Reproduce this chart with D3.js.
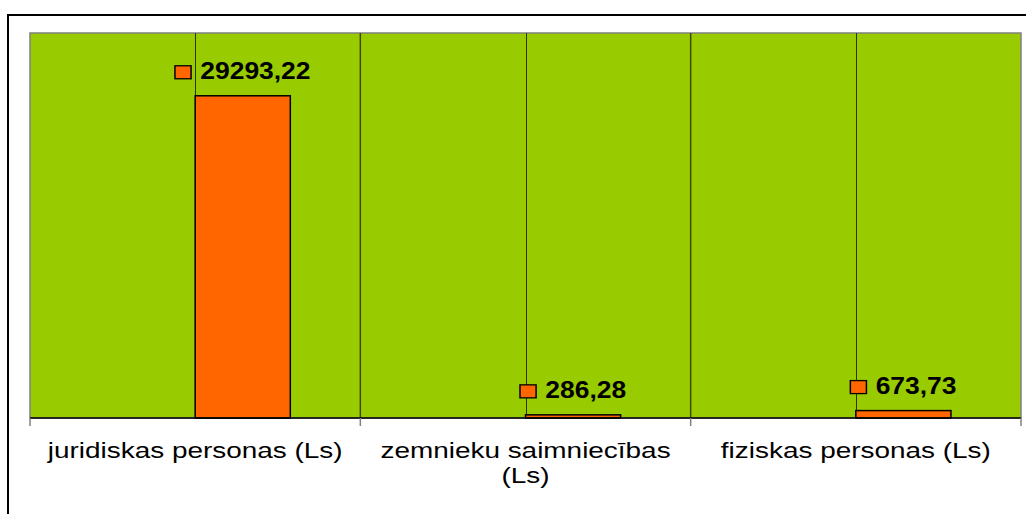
<!DOCTYPE html>
<html>
<head>
<meta charset="utf-8">
<script src="https://cdn.jsdelivr.net/npm/d3@7"></script>
<style>
  body { margin: 0; background: #fff; }
  svg { display: block; font-family: "Liberation Sans", Arial, sans-serif; }
</style>
</head>
<body>
<div id="chart-area"></div>
<script>
// chart data
var categories = ["juridiskas personas (Ls)", "zemnieku saimniecības (Ls)", "fiziskas personas (Ls)"];
var values = [29293.22, 286.28, 673.73];
var labels = ["29293,22", "286,28", "673,73"];
var yDomain = [0, 35000];

var width = 1026, height = 514;
var plot = {left: 30, right: 1021, top: 33, bottom: 418};
var stretchCat = 1.27, stretchVal = 1.15;  // the original text is drawn wider than normal

var svg = d3.select("#chart-area").append("svg")
    .attr("width", width)
    .attr("height", height);

// outer frame, cut off at the right and bottom
svg.append("rect")
    .attr("x", 8).attr("y", 15)
    .attr("width", 1040).attr("height", 520)
    .attr("fill", "#fff")
    .attr("stroke", "#000")
    .attr("stroke-width", 2);

var x = d3.scaleBand()
    .domain(categories)
    .range([plot.left, plot.right])
    .padding(0);

var y = d3.scaleLinear()
    .domain(yDomain)
    .range([plot.bottom, plot.top]);

// plot area
svg.append("rect")
    .attr("x", plot.left).attr("y", plot.top)
    .attr("width", plot.right - plot.left)
    .attr("height", plot.bottom - plot.top)
    .attr("fill", "#99cc00")
    .attr("stroke", "#808080")
    .attr("stroke-width", 1.5);

// lines between categories
svg.selectAll(".sep")
    .data(categories.slice(1))
    .enter().append("line")
    .attr("x1", function(d) { return x(d); })
    .attr("x2", function(d) { return x(d); })
    .attr("y1", plot.top)
    .attr("y2", plot.bottom)
    .attr("stroke", "#3f4c00")
    .attr("stroke-width", 1.5);

// thin lines at category centres
svg.selectAll(".mid")
    .data(categories)
    .enter().append("line")
    .attr("x1", function(d) { return Math.round(x(d) + x.bandwidth() / 2) + 0.5; })
    .attr("x2", function(d) { return Math.round(x(d) + x.bandwidth() / 2) + 0.5; })
    .attr("y1", plot.top)
    .attr("y2", plot.bottom)
    .attr("stroke", "#2e3500")
    .attr("stroke-width", 1);

// bars (second of two series slots, so they start at the centre)
var barW = x.bandwidth() * 0.288;
svg.selectAll(".bar")
    .data(values)
    .enter().append("rect")
    .attr("class", "bar")
    .attr("x", function(d, i) { return x(categories[i]) + x.bandwidth() / 2; })
    .attr("y", function(d) { return y(d); })
    .attr("width", barW)
    .attr("height", function(d) { return plot.bottom - y(d); })
    .attr("fill", "#ff6600")
    .attr("stroke", "#000")
    .attr("stroke-width", 1.5);

// x axis
var xAxis = svg.append("g")
    .attr("transform", "translate(0," + plot.bottom + ")");
xAxis.append("line")
    .attr("x1", plot.left).attr("x2", plot.right)
    .attr("stroke", "#000").attr("stroke-width", 1.5);
var tickPos = categories.map(function(d) { return x(d); }).concat([plot.right]);
xAxis.selectAll(".tick")
    .data(tickPos)
    .enter().append("line")
    .attr("x1", function(d) { return d; })
    .attr("x2", function(d) { return d; })
    .attr("y1", 0).attr("y2", 8)
    .attr("stroke", "#808080").attr("stroke-width", 1.5);

// category labels with wrapping
categories.forEach(function(c) {
    var g = svg.append("g")
        .attr("transform", "translate(" + (x(c) + x.bandwidth() / 2) + "," + (plot.bottom + 40) + ") scale(" + stretchCat + ",1)");
    var t = g.append("text")
        .attr("text-anchor", "middle")
        .attr("font-size", 22)
        .attr("fill", "#000");
    var words = c.split(" "), line = [], lineNo = 0;
    var tspan = t.append("tspan").attr("x", 0).attr("dy", 0);
    var maxW = x.bandwidth() * 0.96 / stretchCat;
    words.forEach(function(w) {
        line.push(w);
        tspan.text(line.join(" "));
        if (tspan.node().getComputedTextLength() > maxW && line.length > 1) {
            line.pop();
            tspan.text(line.join(" "));
            line = [w];
            lineNo++;
            tspan = t.append("tspan").attr("x", 0).attr("dy", 25).text(w);
        }
    });
});

// value labels with legend key square
values.forEach(function(v, i) {
    var cx = x(categories[i]) + x.bandwidth() / 2 + barW / 2;
    var g = svg.append("g")
        .attr("transform", "translate(" + cx + "," + (y(v) - 17) + ") scale(" + stretchVal + ",1)");
    var t = g.append("text")
        .attr("font-size", 23)
        .attr("font-weight", "bold")
        .attr("fill", "#000")
        .text(labels[i]);
    var tw = t.node().getComputedTextLength();
    var keyW = 14, gap = 8;
    var total = keyW + gap + tw;
    g.append("rect")
        .attr("x", -total / 2)
        .attr("y", -13)
        .attr("width", keyW)
        .attr("height", 13)
        .attr("fill", "#ff6600")
        .attr("stroke", "#000")
        .attr("stroke-width", 1.3);
    t.attr("x", -total / 2 + keyW + gap);
});
</script>
</body>
</html>
